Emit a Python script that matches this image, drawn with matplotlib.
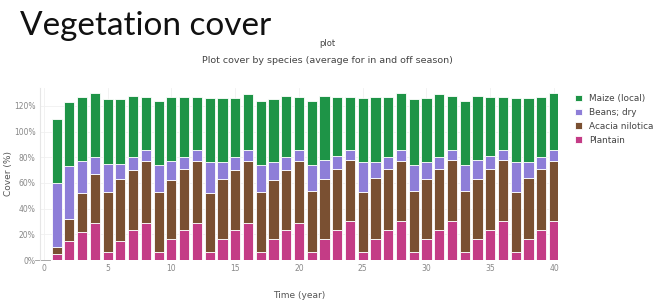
import matplotlib.pyplot as plt
import numpy as np

# Stacked cover (%) per year
years = list(range(1, 41))
plantain = [5, 15, 22, 29, 6, 15, 23, 29, 6, 16, 23, 29, 6, 16, 23, 29, 6, 16, 23, 29,
            6, 16, 23, 30, 6, 16, 23, 30, 6, 16, 23, 30, 6, 16, 23, 30, 6, 16, 23, 30]
acacia_top = [10, 32, 52, 67, 53, 63, 70, 77, 53, 62, 71, 77, 52, 63, 70, 77, 53, 62, 70, 77,
              54, 63, 71, 78, 53, 64, 71, 77, 54, 63, 71, 78, 54, 63, 71, 78, 53, 64, 71, 77]
beans_top = [60, 73, 77, 80, 75, 75, 80, 86, 74, 77, 80, 86, 76, 76, 80, 86, 74, 76, 80, 86,
             74, 78, 81, 86, 76, 76, 80, 86, 74, 76, 80, 86, 74, 78, 81, 86, 76, 76, 80, 86]
maize_top = [110, 123, 127, 130, 125, 125, 128, 127, 124, 127, 127, 127, 126, 126, 126, 129, 124, 125, 128, 127,
             124, 128, 127, 127, 126, 127, 127, 130, 125, 126, 129, 128, 124, 128, 127, 127, 126, 126, 127, 130]

acacia = np.array(acacia_top) - np.array(plantain)
beans = np.array(beans_top) - np.array(acacia_top)
maize = np.array(maize_top) - np.array(beans_top)

series = [
    ('Plantain', plantain, '#c43c86'),
    ('Acacia nilotica', acacia, '#7a5032'),
    ('Beans; dry', beans, '#8e7ed8'),
    ('Maize (local)', maize, '#1e9447'),
]

fig = plt.figure(figsize=(6.54, 3.02), dpi=100)
ax = fig.add_axes([0.061, 0.139, 0.792, 0.57])

bottom = np.zeros(len(years))
handles = []
for name, vals, col in series:
    b = ax.bar(years, vals, bottom=bottom, width=0.8, color=col,
               edgecolor='white', linewidth=0.6, label=name, zorder=3)
    handles.append(b)
    bottom = bottom + np.array(vals)

ax.set_xlim(-0.31, 40.3)
ax.set_ylim(0, 134)
ax.set_xticks(range(0, 41, 5))
ax.set_yticks(range(0, 121, 20))
ax.set_yticklabels(['{:d}%'.format(v) for v in range(0, 121, 20)])
ax.tick_params(axis='both', labelsize=5.5, colors='#888888', length=0, pad=3)
ax.grid(True, color='#f0f0f0', linewidth=0.6, zorder=0)
for s in ['top', 'right', 'bottom']:
    ax.spines[s].set_visible(False)
ax.spines['left'].set_color('#e6e6e6')
ax.axhline(0, xmin=-0.01, xmax=0.02, color='#999999', linewidth=0.6, clip_on=False)

ax.set_xlabel('Time (year)', fontsize=6.5, color='#555555', labelpad=13)
ax.set_ylabel('Cover (%)', fontsize=6.5, color='#555555', labelpad=1)

leg = fig.legend(handles=handles[::-1], labels=[s[0] for s in series][::-1],
                 loc='upper left', bbox_to_anchor=(0.874, 0.70), frameon=False,
                 fontsize=6.4, handlelength=0.8, handleheight=0.8, handletextpad=0.8,
                 labelspacing=0.55, borderaxespad=0)
for t in leg.get_texts():
    t.set_color('#444444')

fig.text(0.031, 0.965, 'Vegetation cover', fontsize=24, family='Lato', va='top', ha='left', color='#111111')
fig.text(0.50, 0.855, 'plot', fontsize=6, ha='center', va='center', color='#444444')
fig.text(0.50, 0.80, 'Plot cover by species (average for in and off season)', fontsize=6.8,
         ha='center', va='center', color='#444444')

fig.savefig('out.png', dpi=100)
